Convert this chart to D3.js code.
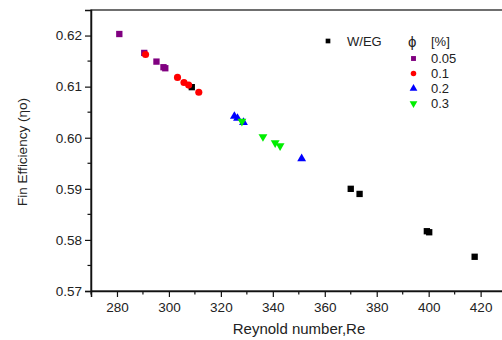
<!DOCTYPE html>
<html>
<head>
<meta charset="utf-8">
<script src="https://cdn.jsdelivr.net/npm/d3@7"></script>
<style>
  body { margin: 0; background: #fff; }
  svg { display: block; font-family: "Liberation Sans", Arial, sans-serif; }
</style>
</head>
<body>
<svg id="chart" width="502" height="340"></svg>
<script>
// W/EG base fluid
const wegRe  = [308.8, 370.0, 373.4, 399.3, 400.2, 417.7];
const wegEta = [0.6099, 0.5900, 0.5890, 0.5817, 0.5815, 0.5767];

// nanofluid phi = 0.05 %
const p05Re  = [280.9, 290.5, 295.2, 297.9, 298.6];
const p05Eta = [0.6203, 0.6166, 0.6149, 0.6138, 0.6136];

// phi = 0.1 %
const p1Re  = [291.0, 303.3, 305.8, 307.6, 311.5];
const p1Eta = [0.6163, 0.6118, 0.6108, 0.6103, 0.6089];

// phi = 0.2 %
const p2Re  = [325.2, 326.4, 328.7, 351.1];
const p2Eta = [0.6042, 0.6038, 0.6030, 0.5959];

// phi = 0.3 %
const p3Re  = [328.1, 336.2, 340.9, 342.8];
const p3Eta = [0.6032, 0.6002, 0.5990, 0.5984];

const xTicks = [280, 300, 320, 340, 360, 380, 400, 420];
const yTicks = [0.57, 0.58, 0.59, 0.60, 0.61, 0.62];

const svg = d3.select('#chart');

const plotL = 91, plotR = 506.6, plotT = 10, plotB = 291;

const x = d3.scaleLinear().domain([270, 430]).range([plotL, plotR]);
const y = d3.scaleLinear().domain([0.57, 0.625]).range([plotB, plotT]);

// frame
svg.append('rect')
    .attr('x', plotL).attr('y', plotT)
    .attr('width', plotR - plotL).attr('height', plotB - plotT)
    .attr('fill', 'none').attr('stroke', '#222').attr('stroke-width', 1.3);

// minor ticks
const xMinor = d3.range(270, 431, 10).filter(v => !xTicks.includes(v));
svg.append('g').selectAll('line').data(xMinor).enter().append('line')
    .attr('x1', d => x(d)).attr('x2', d => x(d))
    .attr('y1', plotB).attr('y2', plotB + 3.5)
    .attr('stroke', '#111').attr('stroke-width', 1.2);

const yMinor = [0.575, 0.585, 0.595, 0.605, 0.615];
svg.append('g').selectAll('line').data(yMinor).enter().append('line')
    .attr('y1', d => y(d)).attr('y2', d => y(d))
    .attr('x1', plotL).attr('x2', plotL - 3.5)
    .attr('stroke', '#111').attr('stroke-width', 1.2);

const xAxis = svg.append('g')
    .attr('transform', 'translate(0,' + plotB + ')')
    .call(d3.axisBottom(x).tickValues(xTicks).tickSize(6).tickPadding(5).tickFormat(d3.format('d')));

const yAxis = svg.append('g')
    .attr('transform', 'translate(' + plotL + ',0)')
    .call(d3.axisLeft(y).tickValues(yTicks).tickSize(6).tickPadding(3).tickFormat(d3.format('.2f')));

[xAxis, yAxis].forEach(a => {
    a.select('.domain').attr('stroke', '#111').attr('stroke-width', 1.5);
    a.selectAll('.tick line').attr('stroke', '#111').attr('stroke-width', 1.2);
    a.selectAll('.tick text')
        .attr('fill', '#222')
        .style('font-family', '"Liberation Sans", Arial, sans-serif')
        .style('font-size', '13.5px');
});

// axis titles
svg.append('text')
    .attr('x', 299).attr('y', 334)
    .attr('text-anchor', 'middle')
    .attr('fill', '#222')
    .style('font-size', '15px')
    .text('Reynold number,Re');

svg.append('text')
    .attr('transform', 'translate(27,152) rotate(-90)')
    .attr('text-anchor', 'middle')
    .attr('fill', '#222')
    .style('font-size', '13.5px')
    .text('Fin Efficiency (ηo)');

// markers
const square = d3.symbol().type(d3.symbolSquare);
const circle = d3.symbol().type(d3.symbolCircle);
const tri = d3.symbol().type(d3.symbolTriangle);

const series = [
    { re: wegRe, eta: wegEta, color: '#000000', shape: square, size: 40, rot: 0 },
    { re: p05Re, eta: p05Eta, color: '#800080', shape: square, size: 40, rot: 0 },
    { re: p1Re, eta: p1Eta, color: '#ff0000', shape: circle, size: 40, rot: 0 },
    { re: p2Re, eta: p2Eta, color: '#0000ff', shape: tri, size: 34, rot: 0 },
    { re: p3Re, eta: p3Eta, color: '#00ee00', shape: tri, size: 34, rot: 180 }
];

series.forEach(s => {
    svg.append('g').selectAll('path')
        .data(s.re.map((r, i) => [r, s.eta[i]]))
        .enter().append('path')
        .attr('d', s.shape.size(s.size)())
        .attr('fill', s.color)
        .attr('transform', d => 'translate(' + x(d[0]) + ',' + y(d[1]) + ') rotate(' + s.rot + ')');
});

// legend
const lg = svg.append('g').style('font-size', '13px').attr('fill', '#222');

lg.append('path').attr('d', square.size(22)()).attr('fill', '#000')
    .attr('transform', 'translate(328,41)');
lg.append('text').attr('x', 347).attr('y', 45.5).text('W/EG');
lg.append('text').attr('x', 408).attr('y', 46.5).style('font-size', '15px').text('ϕ');
lg.append('text').attr('x', 431).attr('y', 45.5).text('[%]');

const legendRows = ['0.05', '0.1', '0.2', '0.3'];
legendRows.forEach((label, i) => {
    const s = series[i + 1];
    const cy = 58.5 + i * 15;
    lg.append('path').attr('d', s.shape.size(i < 2 ? 24 : 26)()).attr('fill', s.color)
        .attr('transform', 'translate(413.5,' + cy + ') rotate(' + s.rot + ')');
    lg.append('text').attr('x', 431).attr('y', cy + 4.5).text(label);
});
</script>
</body>
</html>
